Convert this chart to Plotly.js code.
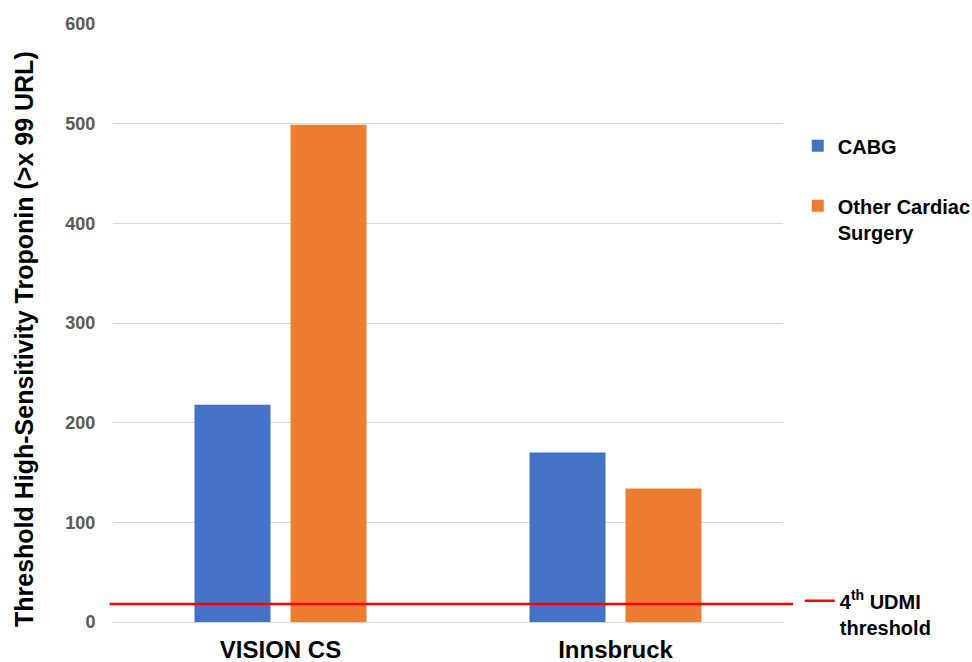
<!DOCTYPE html>
<html>
<head>
<meta charset="utf-8">
<script src="https://cdn.plot.ly/plotly-3.0.1.min.js"></script>
<style>
  html, body { margin: 0; padding: 0; background: #ffffff; }
  #chart { width: 972px; height: 662px; }
</style>
</head>
<body>
<div id="chart"></div>
<script>
// Study cohorts on the category axis
const cohorts = ['VISION CS', 'Innsbruck'];

// Threshold hs-troponin (multiples of the 99th percentile URL)
const cabgValues = [218, 170];
const otherCardiacValues = [499, 134];

// Fourth Universal Definition of MI threshold
const udmiThreshold = [18];

const seriesNames = ['CABG', 'Other Cardiac<br>Surgery'];
const thresholdName = '4<sup>th</sup> UDMI<br>threshold';
const yTitle = 'Threshold High-Sensitivity Troponin (>x 99 URL)';
const yTicks = [0, 100, 200, 300, 400, 500, 600];

const FONT = 'Liberation Sans, Arial, Helvetica, sans-serif';

const traces = [
  {
    type: 'bar',
    name: seriesNames[0],
    x: cohorts,
    y: cabgValues,
    marker: { color: '#4472c4' },
    legendgroup: 'a',
    hoverinfo: 'y'
  },
  {
    type: 'bar',
    name: seriesNames[1],
    x: cohorts,
    y: otherCardiacValues,
    marker: { color: '#ed7d31' },
    legendgroup: 'b',
    hoverinfo: 'y'
  }
];

const layout = {
  width: 972,
  height: 662,
  margin: { l: 113, r: 189, t: 24, b: 40, autoexpand: false },
  paper_bgcolor: '#ffffff',
  plot_bgcolor: '#ffffff',
  barmode: 'group',
  bargap: 0.427,
  bargroupgap: 0.208,
  font: { family: FONT, color: '#000000' },
  xaxis: {
    type: 'category',
    showgrid: false,
    zeroline: false,
    showline: false,
    ticks: 'outside',
    ticklen: 6,
    tickcolor: 'rgba(0,0,0,0)',
    tickfont: { family: FONT, size: 24, color: '#000000', weight: 'bold' }
  },
  yaxis: {
    range: [0, 600],
    tickvals: yTicks,
    showgrid: true,
    gridcolor: '#d9d9d9',
    gridwidth: 1,
    zeroline: true,
    zerolinecolor: '#d9d9d9',
    zerolinewidth: 1,
    showline: false,
    ticks: 'outside',
    ticklen: 13,
    tickcolor: 'rgba(0,0,0,0)',
    tickfont: { family: FONT, size: 18, color: '#595959', weight: 'bold' }
  },
  legend: {
    x: 1.022,
    xanchor: 'left',
    y: 0.829,
    yanchor: 'top',
    traceorder: 'grouped',
    tracegroupgap: 31,
    valign: 'top',
    itemwidth: 30,
    bgcolor: 'rgba(0,0,0,0)',
    font: { family: FONT, size: 20, color: '#000000', weight: 'bold' }
  },
  legend2: {
    x: 1.025,
    xanchor: 'left',
    y: 0.068,
    yanchor: 'top',
    valign: 'top',
    itemwidth: 30,
    bgcolor: 'rgba(0,0,0,0)',
    font: { family: FONT, size: 20, color: '#000000', weight: 'bold' }
  },
  annotations: [
    {
      text: yTitle,
      xref: 'paper',
      yref: 'paper',
      x: -0.133,
      y: 0.473,
      xanchor: 'center',
      yanchor: 'middle',
      textangle: -90,
      showarrow: false,
      font: { family: FONT, size: 25, color: '#000000', weight: 'bold' }
    }
  ],
  shapes: [
    {
      type: 'line',
      xref: 'paper',
      yref: 'y',
      x0: -0.005,
      x1: 1.015,
      y0: udmiThreshold[0],
      y1: udmiThreshold[0],
      line: { color: '#ff0000', width: 2.5 },
      layer: 'above',
      showlegend: true,
      legend: 'legend2',
      name: thresholdName
    }
  ]
};

Plotly.newPlot('chart', traces, layout, { displayModeBar: false, staticPlot: true });
</script>
</body>
</html>
